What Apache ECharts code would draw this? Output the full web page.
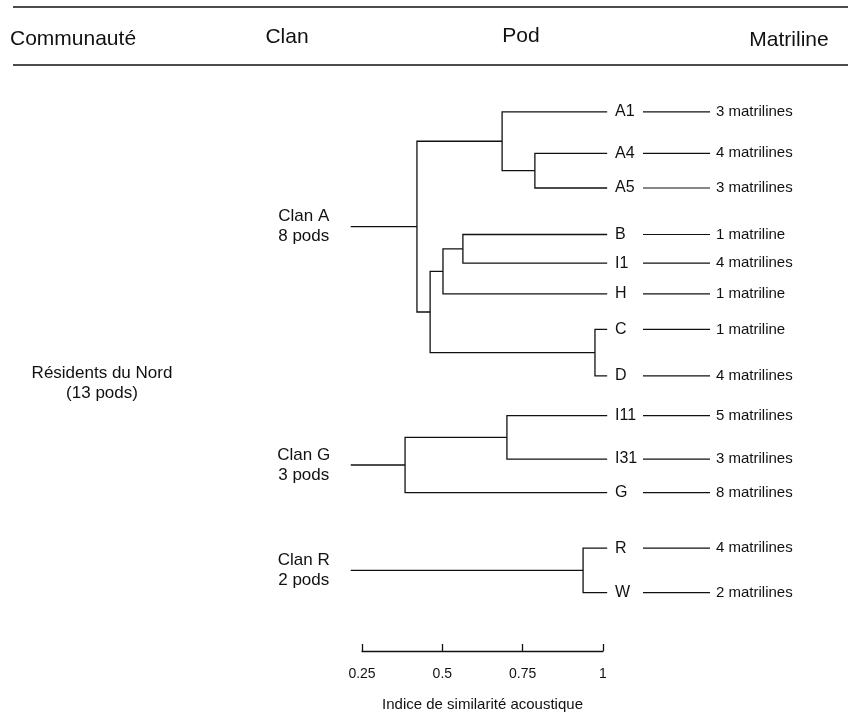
<!DOCTYPE html>
<html lang="fr">
<head>
    <meta charset="UTF-8">
    <title>Dendrogramme des résidents du Nord</title>
    <style>
        *{
            margin:0;
            padding:0;
            box-sizing:border-box;
        }
        html, body{
            height:100%;
            width:100%;
            background:#fff;
        }
        #myChart{
            height:717px;
            width:848px;
        }
    </style>
</head>
<body>
<div id="myChart"></div>
<script src="https://cdn.jsdelivr.net/npm/echarts@6/dist/echarts.min.js"></script>
<script>
    // feuilles (pods), de haut en bas
    var pods = ['A1', 'A4', 'A5', 'B', 'I1', 'H', 'C', 'D', 'I11', 'I31', 'G', 'R', 'W'];
    // position verticale de chaque pod (unités de rang)
    var podRow = [11.3, 15.5, 19.0, 23.7, 26.6, 29.7, 33.3, 38.0, 42.0, 46.4, 49.8, 55.4, 59.9];
    var matrilines = ['3 matrilines', '4 matrilines', '3 matrilines', '1 matriline', '4 matrilines',
        '1 matriline', '1 matriline', '4 matrilines', '5 matrilines', '3 matrilines',
        '8 matrilines', '4 matrilines', '2 matrilines'];

    // fusions : noeuds 13, 14, ... (indices < 13 = pods)
    var mergeLeft = [1, 0, 3, 15, 6, 16, 14, 8, 20, 11];
    var mergeRight = [2, 13, 4, 5, 7, 17, 18, 9, 10, 12];
    var mergeSim = [0.788, 0.686, 0.564, 0.502, 0.975, 0.462, 0.421, 0.701, 0.384, 0.938];

    var clanNames = ['Clan A', 'Clan G', 'Clan R'];
    var clanPods = ['8 pods', '3 pods', '2 pods'];
    var clanRoot = [19, 21, 22];

    var axisTicks = [0.25, 0.5, 0.75, 1];

    var LEAF_END = 1.013;
    var STEM_START = 0.215;
    var FONT = '"Liberation Sans", Arial, Helvetica, sans-serif';

    // coordonnées des noeuds
    var nodeX = [], nodeY = [];
    pods.forEach(function(p, i) {
        nodeX[i] = LEAF_END;
        nodeY[i] = podRow[i];
    });
    mergeSim.forEach(function(s, k) {
        var id = pods.length + k;
        nodeX[id] = s;
        nodeY[id] = (nodeY[mergeLeft[k]] + nodeY[mergeRight[k]]) / 2;
    });

    var links = [];
    mergeSim.forEach(function(s, k) {
        var a = mergeLeft[k], b = mergeRight[k];
        links.push({coords: [[nodeX[a], nodeY[a]], [s, nodeY[a]], [s, nodeY[b]], [nodeX[b], nodeY[b]]]});
    });
    clanRoot.forEach(function(r) {
        links.push({coords: [[STEM_START, nodeY[r]], [nodeX[r], nodeY[r]]]});
    });

    var podData = pods.map(function(p, i) { return [1, podRow[i], p, matrilines[i]]; });
    var clanData = clanRoot.map(function(r, i) { return [STEM_START, nodeY[r], clanNames[i], clanPods[i]]; });

    var myChart = echarts.init(document.getElementById('myChart'));
    var option = {
        backgroundColor:'#fff',
        textStyle:{fontFamily:FONT},
        animation:false,
        grid:{left:362, right:245, top:0, bottom:59},
        xAxis:{
            type:'value',
            position:'bottom',
            min:axisTicks[0],
            max:axisTicks[axisTicks.length - 1],
            interval:0.25,
            name:'Indice de similarité acoustique',
            nameLocation:'middle',
            nameGap:46,
            nameTextStyle:{color:'#111', fontSize:15, fontFamily:FONT},
            axisLine:{onZero:false, lineStyle:{color:'#111', width:1.3}},
            axisTick:{inside:true, length:7, lineStyle:{color:'#111', width:1.3}},
            axisLabel:{color:'#111', fontSize:14, margin:16, fontFamily:FONT},
            splitLine:{show:false}
        },
        yAxis:{
            type:'value',
            inverse:true,
            min:0,
            max:65.8,
            show:false
        },
        graphic:[
            {type:'line', shape:{x1:13, y1:7, x2:848, y2:7}, style:{stroke:'#111', lineWidth:1.5}},
            {type:'line', shape:{x1:13, y1:65, x2:848, y2:65}, style:{stroke:'#111', lineWidth:1.5}},
            {type:'text', x:10, y:39, style:{text:'Communauté', fill:'#111', font:'21px ' + FONT, textVerticalAlign:'middle'}},
            {type:'text', x:287, y:37, style:{text:'Clan', fill:'#111', font:'21px ' + FONT, textAlign:'center', textVerticalAlign:'middle'}},
            {type:'text', x:521, y:36, style:{text:'Pod', fill:'#111', font:'21px ' + FONT, textAlign:'center', textVerticalAlign:'middle'}},
            {type:'text', x:789, y:40, style:{text:'Matriline', fill:'#111', font:'21px ' + FONT, textAlign:'center', textVerticalAlign:'middle'}},
            {type:'text', x:102, y:383, style:{text:'Résidents du Nord\n(13 pods)', fill:'#111', font:'17px ' + FONT, lineHeight:20, textAlign:'center', textVerticalAlign:'middle'}}
        ],
        series:[
            {
                type:'lines',
                coordinateSystem:'cartesian2d',
                polyline:true,
                clip:false,
                silent:true,
                lineStyle:{color:'#111', width:1.3, opacity:1},
                data:links
            },
            {
                // noms des pods + lien vers les matrilines
                type:'custom',
                clip:false,
                silent:true,
                data:podData,
                renderItem:function(params, api) {
                    var p = api.coord([api.value(0), api.value(1)]);
                    var i = params.dataIndex;
                    return {
                        type:'group',
                        children:[
                            {type:'text', x:p[0] + 12, y:p[1], style:{text:podData[i][2], fill:'#111', font:'16px ' + FONT, textVerticalAlign:'middle'}},
                            {type:'line', shape:{x1:p[0] + 40, y1:p[1], x2:p[0] + 107, y2:p[1]}, style:{stroke:'#111', lineWidth:1.2}},
                            {type:'text', x:p[0] + 113, y:p[1], style:{text:podData[i][3], fill:'#111', font:'15px ' + FONT, textVerticalAlign:'middle'}}
                        ]
                    };
                }
            },
            {
                type:'custom',
                clip:false,
                silent:true,
                data:clanData,
                renderItem:function(params, api) {
                    var p = api.coord([api.value(0), api.value(1)]);
                    var i = params.dataIndex;
                    return {
                        type:'text',
                        x:p[0] - 47,
                        y:p[1],
                        style:{text:clanData[i][2] + '\n' + clanData[i][3], fill:'#111', font:'17px ' + FONT,
                            lineHeight:20, textAlign:'center', textVerticalAlign:'middle'}
                    };
                }
            }
        ]
    };
    myChart.setOption(option);
</script>
</body>
</html>
